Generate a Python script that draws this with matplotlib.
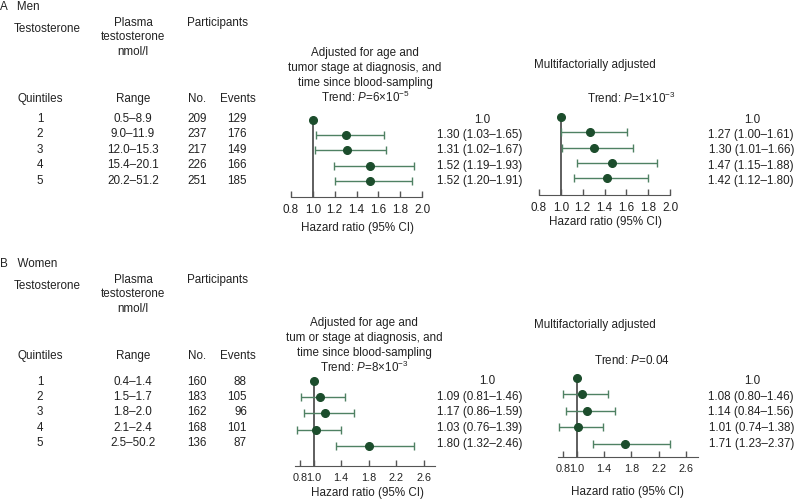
import numpy as np
import matplotlib
matplotlib.use("Agg")
import matplotlib.pyplot as plt

plt.rcParams["font.family"] = ["Liberation Sans", "DejaVu Sans"]
plt.rcParams["mathtext.fontset"] = "custom"
plt.rcParams["mathtext.rm"] = "Liberation Sans"
plt.rcParams["mathtext.it"] = "Liberation Sans:italic"

nan = np.nan
quintiles = ["1", "2", "3", "4", "5"]

men_range = ["0.5–8.9", "9.0–11.9", "12.0–15.3", "15.4–20.1", "20.2–51.2"]
men_no = [209, 237, 217, 226, 251]
men_events = [129, 176, 149, 166, 185]
men_hr1 = [1.0, 1.30, 1.31, 1.52, 1.52]
men_lo1 = [nan, 1.03, 1.02, 1.19, 1.20]
men_hi1 = [nan, 1.65, 1.67, 1.93, 1.91]
men_hr2 = [1.0, 1.27, 1.30, 1.47, 1.42]
men_lo2 = [nan, 1.00, 1.01, 1.15, 1.12]
men_hi2 = [nan, 1.61, 1.66, 1.88, 1.80]

women_range = ["0.4–1.4", "1.5–1.7", "1.8–2.0", "2.1–2.4", "2.5–50.2"]
women_no = [160, 183, 162, 168, 136]
women_events = [88, 105, 96, 101, 87]
women_hr1 = [1.0, 1.09, 1.17, 1.03, 1.80]
women_lo1 = [nan, 0.81, 0.86, 0.76, 1.32]
women_hi1 = [nan, 1.46, 1.59, 1.39, 2.46]
women_hr2 = [1.0, 1.08, 1.14, 1.01, 1.71]
women_lo2 = [nan, 0.80, 0.84, 0.74, 1.23]
women_hi2 = [nan, 1.46, 1.56, 1.38, 2.37]

men_ticks = [0.8, 1.0, 1.2, 1.4, 1.6, 1.8, 2.0]
women_ticks = [0.8, 1.0, 1.4, 1.8, 2.2, 2.6]

W, H = 795, 501
FS = 8.4
TXT = "#222222"
fig = plt.figure(figsize=(W / 100, H / 100), dpi=100)


def txt(x, y, s, ha="center", **kw):
    fig.text(x / W, 1 - y / H, s, ha=ha, va="center", fontsize=FS, color=TXT, **kw)


def forest(left, right, axis_y, row1, step, xlim, ticks, hr, lo, hi, tfs=FS):
    top = row1 - step * 0.7
    ax = fig.add_axes([left / W, 1 - axis_y / H, (right - left) / W, (axis_y - top) / H])
    ybot = (axis_y - row1) / step
    ax.set_ylim(ybot, -0.7)
    ax.set_xlim(*xlim)
    rows = np.arange(len(hr))
    hr, lo, hi = np.array(hr), np.array(lo), np.array(hi)
    ax.plot([1, 1], [0, ybot], color="#333333", lw=1.1, zorder=1)
    ax.errorbar(hr[1:], rows[1:], xerr=[hr[1:] - lo[1:], hi[1:] - hr[1:]], fmt="none",
                ecolor="#4f8163", elinewidth=1.0, capsize=3, capthick=1.0, zorder=2)
    ax.plot(hr, rows, "o", color="#1c4d2c", ms=5.5, zorder=3)
    for s in ["left", "right", "top"]:
        ax.spines[s].set_visible(False)
    ax.spines["bottom"].set_color("#555555")
    ax.set_yticks([])
    ax.set_xticks(ticks)
    ax.set_xticklabels([f"{t:.1f}" for t in ticks])
    ax.tick_params(axis="x", direction="in", length=4, width=1, color="#555555",
                   labelsize=tfs, labelcolor=TXT, pad=5)
    ax.patch.set_visible(False)
    return ax


def hr_text(right_x, center_x, row1, step, hr, lo, hi):
    for i in range(len(hr)):
        y = row1 + i * step
        if np.isnan(lo[i]):
            txt(center_x, y, f"{hr[i]:.1f}")
        else:
            txt(right_x, y, f"{hr[i]:.2f} ({lo[i]:.2f}–{hi[i]:.2f})", ha="right")


def table(y0, label, rng, no, ev, row1, step):
    txt(0, y0, label, ha="left")
    txt(47, y0 + 22, "Testosterone")
    txt(133, y0 + 16, "Plasma")
    txt(133, y0 + 30, "testosterone")
    txt(133, y0 + 45, "nmol/l")
    txt(218, y0 + 16, "Participants")
    txt(40, y0 + 92, "Quintiles")
    txt(133, y0 + 92, "Range")
    txt(197, y0 + 92, "No.")
    txt(238, y0 + 92, "Events")
    for i in range(len(quintiles)):
        y = row1 + i * step
        txt(40, y, quintiles[i])
        txt(133, y, rng[i])
        txt(197, y, str(no[i]))
        txt(247, y, str(ev[i]), ha="right")


# A  Men
table(7, "A   Men", men_range, men_no, men_events, 119, 15.4)
for j, line in enumerate(["Adjusted for age and", "tumor stage at diagnosis, and",
                          "time since blood-sampling"]):
    txt(365, 53 + 15 * j, line)
txt(365, 97, r"Trend: $P$=6$\times$10$^{-5}$")
txt(595, 65, "Multifactorially adjusted")
txt(631, 98, r"Trend: $P$=1$\times$10$^{-3}$")

forest(291, 422, 197, 120, 15.25, (0.8, 2.0), men_ticks, men_hr1, men_lo1, men_hi1)
forest(539, 670, 195, 117, 15.3, (0.8, 2.0), men_ticks, men_hr2, men_lo2, men_hi2)
hr_text(522, 482, 120, 15.25, men_hr1, men_lo1, men_hi1)
hr_text(794, 752, 120, 15.25, men_hr2, men_lo2, men_hi2)
txt(357, 228, "Hazard ratio (95% CI)")
txt(605, 222, "Hazard ratio (95% CI)")

# B  Women
table(264, "B   Women", women_range, women_no, women_events, 382, 15.2)
for j, line in enumerate(["Adjusted for age and", "tum or stage at diagnosis, and",
                          "time since blood-sampling"]):
    txt(364, 323 + 15 * j, line)
txt(364, 367, r"Trend: $P$=8$\times$10$^{-3}$")
txt(595, 325, "Multifactorially adjusted")
txt(632, 361, r"Trend: $P$=0.04")

forest(295, 435, 466, 381, 16.2, (0.73, 2.76), women_ticks, women_hr1, women_lo1, women_hi1, tfs=7.8)
forest(558, 698, 457, 378, 16.4, (0.72, 2.78), women_ticks, women_hr2, women_lo2, women_hi2, tfs=7.8)
hr_text(522, 487, 381, 15.7, women_hr1, women_lo1, women_hi1)
hr_text(794, 752, 381, 15.7, women_hr2, women_lo2, women_hi2)
txt(367, 493, "Hazard ratio (95% CI)")
txt(627, 492, "Hazard ratio (95% CI)")

plt.savefig("out.png", dpi=100)
print("saved out.png")
